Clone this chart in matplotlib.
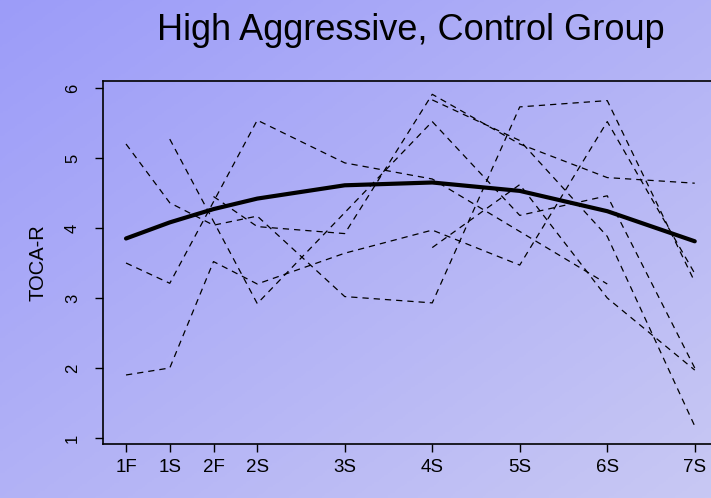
import numpy as np
import matplotlib as mpl
mpl.use('Agg')
from matplotlib import pyplot as plt
from matplotlib.colors import LinearSegmentedColormap

plt.rcParams['font.family'] = ['Liberation Sans', 'DejaVu Sans']

nan = np.nan
occasions = ['1F', '1S', '2F', '2S', '3S', '4S', '5S', '6S', '7S']
occ_time = [0, 0.5, 1, 1.5, 2.5, 3.5, 4.5, 5.5, 6.5]

# TOCA-R scores per child (nan = not measured at that occasion)
child_1 = [5.2, 4.36, 4.04, 4.17, 3.02, 2.93, 5.73, 5.82, 3.23]
child_2 = [nan, 5.27, nan, 2.92, nan, 5.52, 4.18, 4.46, 2.0]
child_3 = [3.5, 3.21, nan, 5.54, 4.93, 4.7, 3.95, 3.2, nan]
child_4 = [1.9, 2.0, 3.52, 3.2, 3.64, 3.97, 3.47, 5.52, 3.35]
child_5 = [nan, nan, 4.45, 4.02, 3.92, 5.91, 5.2, 4.72, 4.64]
child_6 = [nan, nan, nan, nan, nan, 5.83, 5.25, 3.88, 1.17]
child_7 = [nan, nan, nan, nan, nan, 3.72, 4.62, 3.0, 1.97]
children = [child_1, child_2, child_3, child_4, child_5, child_6, child_7]

group_mean = [3.85, 4.08, 4.27, 4.42, 4.61, 4.65, 4.53, 4.24, 3.81]

W, H = 711, 498
fig = plt.figure(figsize=(W / 100, H / 100), dpi=100)

# diagonal background gradient
bg = fig.add_axes([0, 0, 1, 1], zorder=0)
gx, gy = np.meshgrid(np.linspace(0, 1, 300), np.linspace(0, 1, 220))
grad = (gx + gy) / 2
cmap = LinearSegmentedColormap.from_list('bg', ['#9c9cf9', '#c8c8f3'])
bg.imshow(grad, cmap=cmap, aspect='auto', extent=[0, 1, 1, 0])
bg.set_xlim(0, 1)
bg.set_ylim(1, 0)
bg.axis('off')

left, right, top, bottom = 103, 717.5, 81, 444
ax = fig.add_axes([left / W, 1 - bottom / H, (right - left) / W, (bottom - top) / H], zorder=1)
ax.patch.set_alpha(0)

t = np.array(occ_time)
for kid in children:
    y = np.array(kid)
    ok = ~np.isnan(y)
    line, = ax.plot(t[ok], y[ok], color='black', lw=0.9)
    line.set_dashes((5, 4))

ax.plot(t, group_mean, color='black', lw=3.0, solid_capstyle='round')

ax.set_xlim(-0.263, 6.76)
ax.set_ylim(0.914, 6.1)
ax.set_xticks(occ_time)
ax.set_xticklabels(occasions, fontsize=13.5)
ax.set_yticks([1, 2, 3, 4, 5, 6])
ax.set_yticklabels(['1', '2', '3', '4', '5', '6'], fontsize=12, rotation=90, va='center')
ax.tick_params(axis='x', direction='out', length=6, width=1, pad=5)
ax.tick_params(axis='y', direction='out', length=5.5, width=1, pad=11)
for s in ax.spines.values():
    s.set_linewidth(1.2)

fig.text(38 / W, 1 - 263 / H, 'TOCA-R', fontsize=14.5, rotation=90,
         ha='center', va='center')
fig.text(411 / W, 1 - 40 / H, 'High Aggressive, Control Group', fontsize=26,
         ha='center', va='baseline')

fig.savefig('out.png', dpi=100)
